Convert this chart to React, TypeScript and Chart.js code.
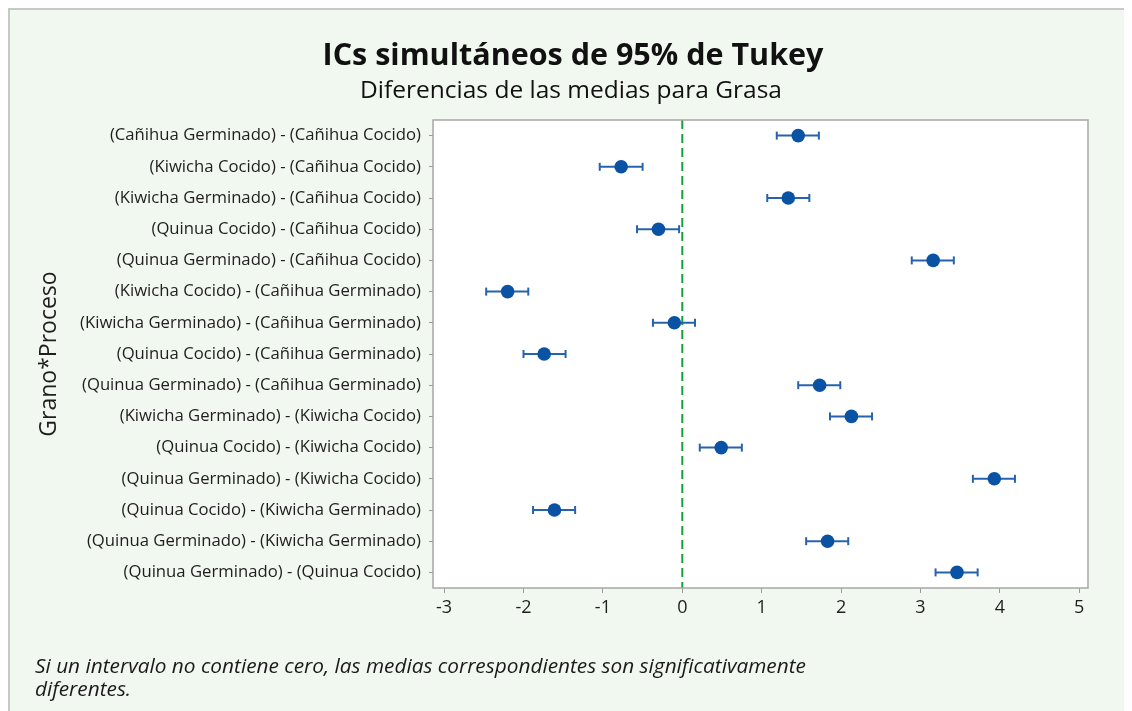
import React, { useEffect, useRef } from "react";
import { Chart, registerables } from "chart.js";

Chart.register(...registerables);

const categories: string[] = [
  "(Cañihua Germinado) - (Cañihua Cocido)",
  "(Kiwicha Cocido) - (Cañihua Cocido)",
  "(Kiwicha Germinado) - (Cañihua Cocido)",
  "(Quinua Cocido) - (Cañihua Cocido)",
  "(Quinua Germinado) - (Cañihua Cocido)",
  "(Kiwicha Cocido) - (Cañihua Germinado)",
  "(Kiwicha Germinado) - (Cañihua Germinado)",
  "(Quinua Cocido) - (Cañihua Germinado)",
  "(Quinua Germinado) - (Cañihua Germinado)",
  "(Kiwicha Germinado) - (Kiwicha Cocido)",
  "(Quinua Cocido) - (Kiwicha Cocido)",
  "(Quinua Germinado) - (Kiwicha Cocido)",
  "(Quinua Cocido) - (Kiwicha Germinado)",
  "(Quinua Germinado) - (Kiwicha Germinado)",
  "(Quinua Germinado) - (Quinua Cocido)",
];

const means: number[] = [1.46, -0.77, 1.335, -0.3, 3.16, -2.2, -0.1, -1.74, 1.73, 2.13, 0.49, 3.93, -1.61, 1.83, 3.46];
const lower: number[] = [1.19, -1.04, 1.07, -0.57, 2.89, -2.47, -0.37, -2.0, 1.46, 1.86, 0.22, 3.66, -1.88, 1.56, 3.19];
const upper: number[] = [1.72, -0.5, 1.6, -0.04, 3.42, -1.94, 0.16, -1.47, 1.99, 2.39, 0.75, 4.19, -1.35, 2.09, 3.72];

const xTicks: number[] = [-3, -2, -1, 0, 1, 2, 3, 4, 5];

const titleText = "ICs simultáneos de 95% de Tukey";
const subtitleText = "Diferencias de las medias para Grasa";
const yTitleText = "Grano*Proceso";
const footnoteLines: string[] = [
  "Si un intervalo no contiene cero, las medias correspondientes son significativamente",
  "diferentes.",
];

const FONT = "'Open Sans', 'Noto Sans', sans-serif";
const TEXT = "#1e1e1e";
const BLUE = "#0a52a3";
const BAR = "#2763ad";

export default function App() {
  const ref = useRef<HTMLCanvasElement | null>(null);

  useEffect(() => {
    document.body.style.overflow = "hidden";
    document.documentElement.style.overflow = "hidden";
    const canvas = ref.current;
    if (!canvas) return;

    const plotBg = {
      id: "plotBg",
      beforeDraw(chart: any) {
        const { ctx, chartArea: a } = chart;
        ctx.save();
        ctx.fillStyle = "#ffffff";
        ctx.fillRect(a.left, a.top, a.right - a.left, a.bottom - a.top);
        ctx.restore();
      },
      afterDraw(chart: any) {
        const { ctx, chartArea: a, width } = chart;
        ctx.save();
        ctx.strokeStyle = "#a6a6a6";
        ctx.lineWidth = 1.5;
        ctx.strokeRect(a.left, a.top, a.right - a.left, a.bottom - a.top);
        ctx.fillStyle = "#111";
        ctx.textAlign = "center";
        ctx.textBaseline = "middle";
        ctx.font = `bold 30.5px ${FONT}`;
        ctx.fillText(titleText, width / 2 + 2, 46);
        ctx.font = `24.5px ${FONT}`;
        ctx.fillText(subtitleText, width / 2, 81.5);
        ctx.textAlign = "left";
        ctx.fillStyle = "#1a1a1a";
        ctx.font = `italic 20.8px ${FONT}`;
        footnoteLines.forEach((line, i) => ctx.fillText(line, 25, 657.5 + i * 23));
        ctx.restore();
      },
    };

    const barDatasets = categories.map((_, i) => ({
      type: "line" as const,
      data: [
        { x: lower[i], y: i },
        { x: upper[i], y: i },
      ],
      borderColor: BAR,
      backgroundColor: BAR,
      borderWidth: 2,
      pointStyle: "line" as const,
      pointRotation: 90,
      pointRadius: 4,
      pointBorderWidth: 2,
      pointBorderColor: BAR,
      showLine: true,
      order: 2,
    }));

    const chart = new Chart(canvas, {
      type: "scatter",
      data: {
        datasets: [
          {
            type: "line",
            data: [
              { x: 0, y: -0.5 },
              { x: 0, y: 14.5 },
            ],
            borderColor: "#16a03a",
            borderWidth: 2,
            borderDash: [9, 5],
            pointRadius: 0,
            showLine: true,
            order: 3,
          } as any,
          ...barDatasets,
          {
            type: "scatter",
            data: means.map((m, i) => ({ x: m, y: i })),
            backgroundColor: BLUE,
            borderColor: BLUE,
            pointRadius: 6.8,
            pointBorderWidth: 0,
            order: 1,
          } as any,
        ],
      },
      options: {
        responsive: false,
        animation: false,
        devicePixelRatio: 1,
        layout: { padding: { top: 110, right: 44, bottom: 83, left: 0 } },
        plugins: {
          legend: { display: false },
          tooltip: { enabled: false },
          title: { display: false },
        },
        scales: {
          x: {
            type: "linear",
            min: -3.14,
            max: 5.11,
            afterBuildTicks: (scale: any) => {
              scale.ticks = xTicks.map((v) => ({ value: v }));
            },
            afterFit: (scale: any) => {
              scale.height = 40;
            },
            ticks: {
              font: { family: FONT, size: 18 },
              color: TEXT,
              padding: 4,
            },
            grid: { drawOnChartArea: false, drawTicks: true, tickLength: 5, color: "#9a9a9a" },
            border: { display: false },
          },
          y: {
            type: "linear",
            min: -0.5,
            max: 14.5,
            reverse: true,
            afterBuildTicks: (scale: any) => {
              scale.ticks = categories.map((_, i) => ({ value: i }));
            },
            afterFit: (scale: any) => {
              scale.width = 423;
            },
            ticks: {
              autoSkip: false,
              font: { family: FONT, size: 16.7 },
              color: TEXT,
              padding: 8,
              callback: (v: any) => categories[v as number] ?? "",
            },
            grid: { drawOnChartArea: false, drawTicks: true, tickLength: 4, color: "#9a9a9a" },
            border: { display: false },
            title: {
              display: true,
              text: yTitleText,
              font: { family: FONT, size: 23 },
              color: TEXT,
              padding: { top: 26, bottom: 0 },
            },
          },
        },
      },
      plugins: [plotBg],
    } as any);

    return () => chart.destroy();
  }, []);

  return (
    <div
      style={{
        position: "relative",
        width: 1122,
        height: 701,
        background: "#f1f8ef",
        borderTop: "2px solid #c8c8c8",
        borderLeft: "2px solid #c8c8c8",
      }}
    >
      <canvas ref={ref} width={1122} height={701} style={{ display: "block", width: 1122, height: 701 }} />
    </div>
  );
}
